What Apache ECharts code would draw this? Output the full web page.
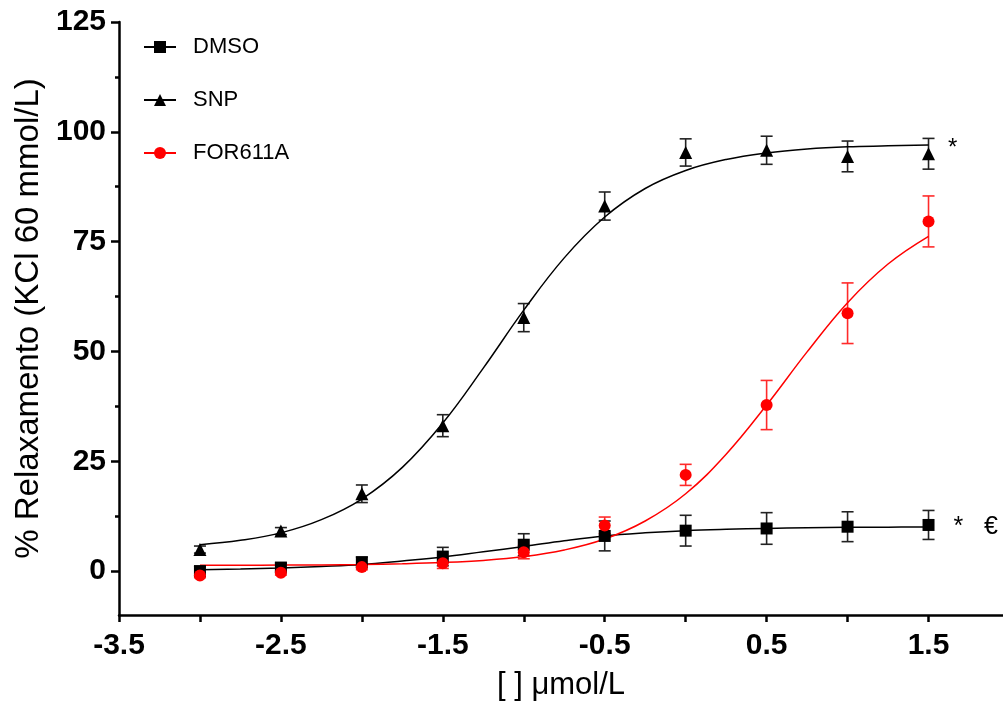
<!DOCTYPE html>
<html><head><meta charset="utf-8">
<script src="https://cdn.jsdelivr.net/npm/echarts@6/dist/echarts.min.js"></script>
<style>html,body{margin:0;padding:0;background:#fff}#c{width:1003px;height:725px}</style>
</head><body><div id="c"></div>
<script>
// ---- data ----
const doses    = [-3, -2.5, -2, -1.5, -1, -0.5, 0, 0.5, 1, 1.5];
const dmsoMean = [0.0, 0.8, 2.0, 3.3, 6.0, 8.0, 9.2, 9.7, 10.1, 10.5];
const dmsoSem  = [1.0, 1.0, 1.2, 2.1, 2.5, 3.4, 3.5, 3.6, 3.4, 3.3];
const snpMean  = [4.9, 9.1, 17.6, 33.1, 57.7, 83.1, 95.3, 95.8, 94.4, 95.0];
const snpSem   = [0.8, 0.8, 2.0, 2.5, 3.2, 3.2, 3.1, 3.2, 3.5, 3.5];
const forMean  = [-1.0, -0.4, 0.9, 1.8, 4.3, 10.4, 21.9, 37.8, 58.7, 79.6];
const forSem   = [0.5, 0.5, 0.6, 1.2, 1.5, 1.9, 2.4, 5.6, 6.9, 5.8];
// fitted curves
const fitX    = [-3, -2.75, -2.5, -2.25, -2, -1.75, -1.5, -1.25, -1, -0.75, -0.5, -0.25, 0, 0.25, 0.5, 0.75, 1, 1.25, 1.5];
const dmsoFit = [0.3, 0.45, 0.7, 1.05, 1.5, 2.3, 3.2, 4.4, 5.6, 6.9, 8.0, 8.7, 9.2, 9.5, 9.7, 9.85, 9.95, 10.0, 10.05];
const snpFit  = [6.0, 7.0, 8.7, 11.7, 16.4, 23.6, 33.7, 46.2, 59.4, 71.3, 80.6, 87.1, 91.2, 93.7, 95.2, 96.1, 96.6, 96.8, 97.0];
const forFit  = [1.32, 1.33, 1.36, 1.41, 1.5, 1.66, 1.94, 2.43, 3.3, 4.8, 7.3, 11.4, 17.6, 26.6, 37.8, 49.9, 61.1, 69.9, 76.2];
// axis ticks / labels
const xTicks  = [-3.5, -3, -2.5, -2, -1.5, -1, -0.5, 0, 0.5, 1, 1.5];
const xLabels = [-3.5, -2.5, -1.5, -0.5, 0.5, 1.5];
const yLabels = [0, 25, 50, 75, 100, 125];
const yMinor  = [12.5, 37.5, 62.5, 87.5, 112.5];
const seriesNames = ['DMSO', 'SNP', 'FOR611A'];
const snpNote = '*';
const dmsoNote = '*   €';

// ---- chart ----
const FONT = '"Liberation Sans", Arial, sans-serif';
const BLACK = '#000000';
const RED = '#ff0000';

function pairs(xs, ys) { return xs.map((x, i) => [x, ys[i]]); }
function triples(xs, ys, es) { return xs.map((x, i) => [x, ys[i], es[i]]); }

function errRender(color) {
  return function (params, api) {
    const x = api.value(0), y = api.value(1), e = api.value(2);
    const t = api.coord([x, y + e]), b = api.coord([x, y - e]);
    const w = 6;
    const st = { stroke: color, lineWidth: 1.6 };
    return { type: 'group', children: [
      { type: 'line', shape: { x1: t[0], y1: t[1], x2: b[0], y2: b[1] }, style: st },
      { type: 'line', shape: { x1: t[0] - w, y1: t[1], x2: t[0] + w, y2: t[1] }, style: st },
      { type: 'line', shape: { x1: b[0] - w, y1: b[1], x2: b[0] + w, y2: b[1] }, style: st }
    ]};
  };
}

function withNote(data, note, labelStyle) {
  const last = data.length - 1;
  return data.map((p, i) => i === last ? { value: p, label: Object.assign({ show: true, formatter: note }, labelStyle) } : p);
}

function fitSeries(name, ys, color, symbol) {
  return {
    name: name, type: 'line', data: pairs(fitX, ys), smooth: 0.4,
    showSymbol: false, symbol: symbol, symbolSize: 12,
    lineStyle: { color: color, width: 1.5 }, itemStyle: { color: color },
    z: 3, silent: true, animation: false
  };
}
function errSeries(name, means, sems, color) {
  return {
    name: name + ' err', type: 'custom', data: triples(doses, means, sems),
    renderItem: errRender(color), z: 2, silent: true, animation: false
  };
}
function ptSeries(name, means, color, symbol, size, note, labelStyle) {
  let data = pairs(doses, means);
  if (note) data = withNote(data, note, labelStyle);
  return {
    name: name, type: 'scatter', data: data, symbol: symbol, symbolSize: size,
    itemStyle: { color: color, opacity: 1 }, z: 4, silent: true, animation: false
  };
}

const chart = echarts.init(document.getElementById('c'), null, { renderer: 'canvas' });
chart.setOption({
  backgroundColor: '#ffffff',
  animation: false,
  textStyle: { fontFamily: FONT },
  grid: { left: 119, right: 0, top: 22, bottom: 110, containLabel: false },
  legend: {
    data: seriesNames, orient: 'vertical', left: 143, top: 36, padding: 0,
    itemWidth: 32, itemHeight: 15, itemGap: 31, selectedMode: false,
    textStyle: { fontSize: 22, color: BLACK, fontFamily: FONT, padding: [0, 0, 0, 12], lineHeight: 22 }
  },
  xAxis: {
    type: 'value', min: -3.5, max: 1.96,
    name: '[ ] μmol/L', nameLocation: 'middle', nameGap: 55,
    nameTextStyle: { fontSize: 31, color: BLACK, fontFamily: FONT },
    axisLine: { show: true, onZero: false, lineStyle: { color: BLACK, width: 2.5 } },
    axisTick: { show: true, customValues: xTicks, length: 7, lineStyle: { color: BLACK, width: 2.5 } },
    axisLabel: { show: true, customValues: xLabels, margin: 16, fontSize: 30, fontWeight: 'bold', color: BLACK, fontFamily: FONT,
      formatter: v => v.toFixed(1) },
    splitLine: { show: false }
  },
  yAxis: [{
    type: 'value', min: -10, max: 125,
    name: '% Relaxamento (KCl 60 mmol/L)', nameLocation: 'middle', nameGap: 68,
    nameTextStyle: { fontSize: 33, color: BLACK, fontFamily: FONT },
    axisLine: { show: true, onZero: false, lineStyle: { color: BLACK, width: 2.5 } },
    axisTick: { show: true, customValues: yLabels, length: 8, lineStyle: { color: BLACK, width: 2.5 } },
    axisLabel: { show: true, customValues: yLabels, margin: 13, fontSize: 30, fontWeight: 'bold', color: BLACK, fontFamily: FONT },
    splitLine: { show: false }
  }, {
    type: 'value', min: -10, max: 125, position: 'left',
    axisLine: { show: false, onZero: false },
    axisTick: { show: true, customValues: yMinor, length: 4, lineStyle: { color: BLACK, width: 2.5 } },
    axisLabel: { show: false },
    splitLine: { show: false }
  }],
  series: [
    fitSeries('DMSO', dmsoFit, BLACK, 'rect'),
    fitSeries('SNP', snpFit, BLACK, 'triangle'),
    fitSeries('FOR611A', forFit, RED, 'circle'),
    errSeries('DMSO', dmsoMean, dmsoSem, '#222222'),
    errSeries('SNP', snpMean, snpSem, '#222222'),
    errSeries('FOR611A', forMean, forSem, '#ff2a2a'),
    ptSeries('DMSO', dmsoMean, BLACK, 'rect', 12, dmsoNote,
      { position: 'right', distance: 19, offset: [0, 2], fontSize: 25, color: BLACK, fontFamily: FONT }),
    ptSeries('SNP', snpMean, BLACK, 'triangle', 13, snpNote,
      { position: 'right', distance: 13, offset: [0, -5], fontSize: 24, color: BLACK, fontFamily: FONT }),
    ptSeries('FOR611A', forMean, RED, 'circle', 12)
  ]
});
</script>
</body></html>
